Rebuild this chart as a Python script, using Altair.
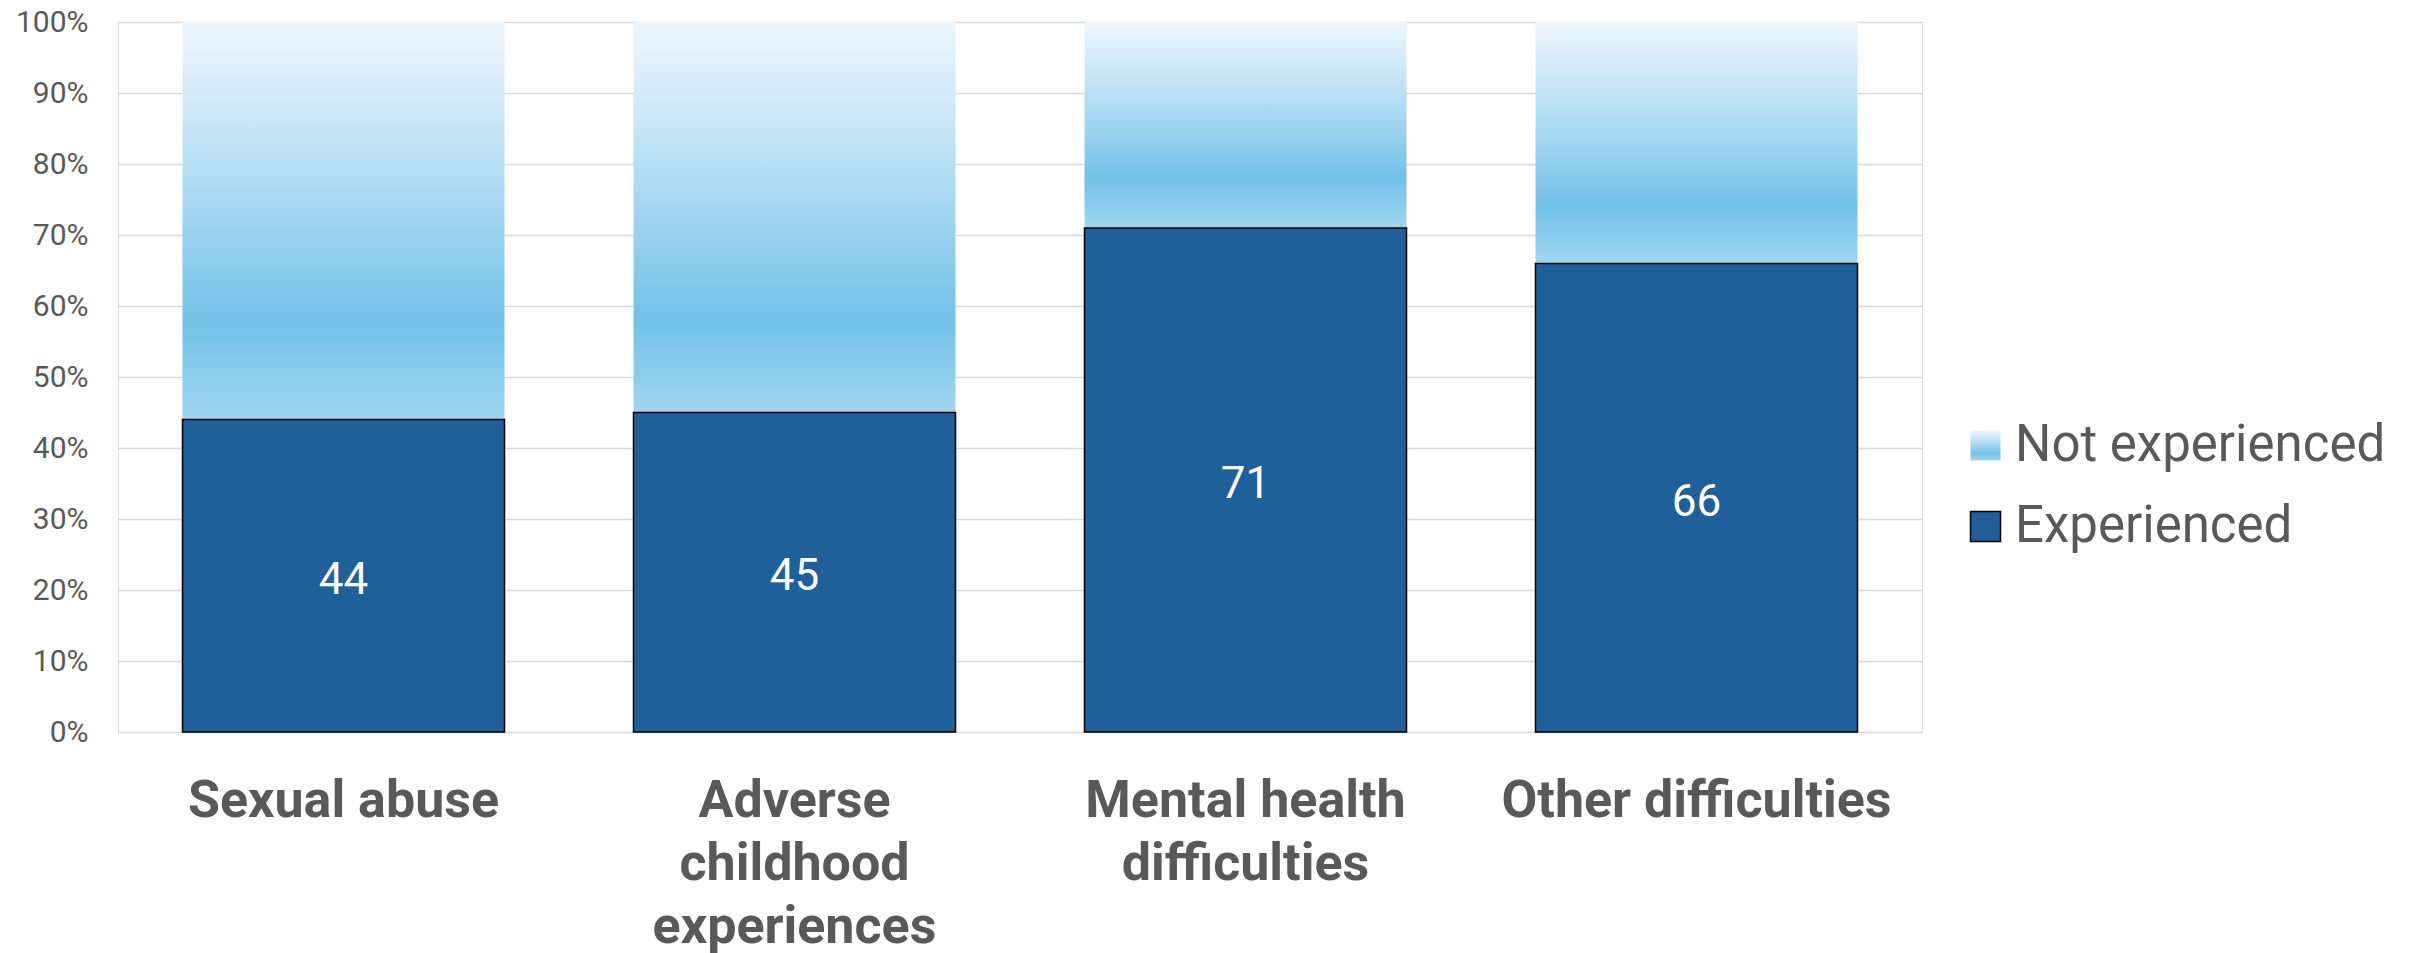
import json
import altair as alt
import pandas as pd

categories = ["Sexual abuse", "Adverse childhood experiences", "Mental health difficulties", "Other difficulties"]
category_lines = [["Sexual abuse"], ["Adverse", "childhood", "experiences"], ["Mental health", "difficulties"], ["Other difficulties"]]
experienced = [44, 45, 71, 66]
series = ["Not experienced", "Experienced"]
y_ticks = [0, 10, 20, 30, 40, 50, 60, 70, 80, 90, 100]

rows = []
for c, v in zip(categories, experienced):
    rows.append({"category": c, "series": "Not experienced", "y0": v, "y1": 100, "label": "", "mid": (100 + v) / 2})
for c, v in zip(categories, experienced):
    rows.append({"category": c, "series": "Experienced", "y0": 0, "y1": v, "label": str(v), "mid": v / 2})
df = pd.DataFrame(rows)

grad = ("{gradient: 'linear', x1: 0, y1: 0, x2: 0, y2: 1, stops: ["
        "{offset: 0, color: '#eef6fd'}, {offset: 0.35, color: '#b9e0f4'}, "
        "{offset: 0.76, color: '#72c1e7'}, {offset: 1, color: '#9fd6f0'}]}")

label_expr = "{}[indexof({}, datum.value)]".format(json.dumps(category_lines), json.dumps(categories))

FONT = "Roboto"
GREY = "#595959"

legend = alt.Legend(orient="none", legendX=1842, legendY=398, symbolType="square",
                    symbolSize=900, labelFont=FONT, labelFontSize=51,
                    labelColor=GREY, labelOffset=4, rowPadding=29,
                    symbolStrokeWidth=1.5, labelLimit=600)

x = alt.X("category:N", sort=categories, title=None,
          scale=alt.Scale(paddingInner=0.286, paddingOuter=0.143),
          axis=alt.Axis(labelAngle=0, labelExpr=label_expr, labelFont=FONT, labelFontSize=52,
                        labelFontWeight="bold", labelColor=GREY, labelLineHeight=63,
                        labelPadding=43, ticks=False, domain=False, grid=False, labelLimit=600))

y = alt.Y("y0:Q", title=None,
          scale=alt.Scale(domain=[0, 100], nice=False),
          axis=alt.Axis(values=y_ticks, labelExpr="datum.value + '%'", labelFont=FONT,
                        labelFontSize=30, labelColor=GREY, labelPadding=30, ticks=False,
                        domain=False, grid=True, gridColor="#d9d9d9", gridWidth=1.5))

bars = alt.Chart(df).mark_bar(strokeWidth=1.5).encode(
    x=x,
    y=y,
    y2="y1:Q",
    color=alt.Color("series:N", title=None,
                    scale=alt.Scale(domain=series, range=[{"expr": grad}, "#215f9a"]),
                    legend=legend),
    stroke=alt.Stroke("series:N", title=None,
                      scale=alt.Scale(domain=series, range=["rgba(0,0,0,0)", "#000000"]),
                      legend=legend),
)

labels = alt.Chart(df).transform_filter(alt.datum.series == "Experienced").mark_text(
    color="white", font=FONT, fontSize=44, baseline="middle", align="center", dy=5
).encode(
    x=alt.X("category:N", sort=categories),
    y=alt.Y("mid:Q"),
    text="label:N",
)

chart = alt.layer(bars, labels).properties(
    width=1804, height=710,
    autosize=alt.AutoSizeParams(type="none"),
    padding={"left": 110, "top": 14, "right": 480, "bottom": 221},
).configure_view(stroke=None).configure(background="white")

chart.save("out.html", embed_options={"renderer": "svg", "actions": False})
